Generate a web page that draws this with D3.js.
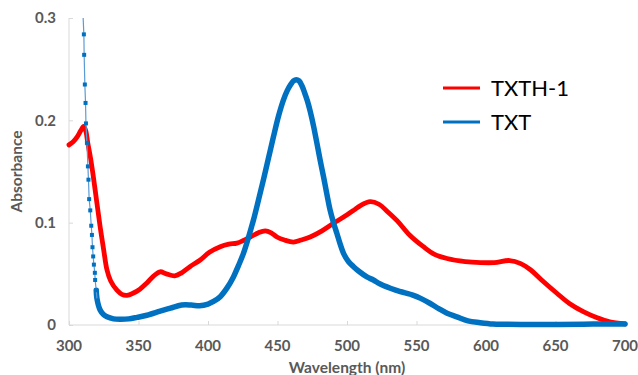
<!DOCTYPE html>
<html><head><meta charset="utf-8">
<script src="https://cdn.jsdelivr.net/npm/d3@7"></script>
<style>html,body{margin:0;padding:0;background:#fff;}svg{display:block;}</style>
</head><body>
<svg id="chart" width="638" height="375"></svg>
<script>
// ---------- data ----------
const seriesNames = ["TXTH-1", "TXT"];
const xTicks = [300, 350, 400, 450, 500, 550, 600, 650, 700];
const yTicks = [0, 0.1, 0.2, 0.3];
const yTickLabels = ["0", "0.1", "0.2", "0.3"];

const redNm = [300,303,306,308.5,310.5,312,313.5,315.5,317.5,320,322.4,325,327.3,330,334.5,338,341.7,346,351,356,361,365.6,370,376,381,387,394.4,401,408.8,415,420.8,426,430.4,436,441.2,445.5,449.6,455,461.5,467,473.5,482,490.3,497,504.7,510,516.7,523,529,536,545,555,563,572,585,596,606,617,625,632,640,651,660,670,680,689,700];
const redAbs = [0.176,0.179,0.184,0.190,0.194,0.190,0.178,0.163,0.145,0.120,0.096,0.073,0.054,0.043,0.034,0.030,0.029,0.031,0.035,0.041,0.048,0.052,0.050,0.048,0.051,0.057,0.0635,0.071,0.0765,0.079,0.080,0.083,0.086,0.090,0.092,0.090,0.086,0.083,0.081,0.083,0.086,0.092,0.0994,0.105,0.112,0.117,0.1205,0.118,0.111,0.102,0.088,0.0765,0.069,0.065,0.062,0.061,0.061,0.063,0.060,0.054,0.044,0.031,0.021,0.013,0.007,0.003,0.001];

// steep part of TXT where individual square markers are visible
const txtSteepNm = [309.2,310.7,310.9,311.4,311.9,312.2,312.9,313.6,314.0,314.5,315.3,316.0,316.5,316.9,317.4,317.9,318.6,318.8,319.6];
const txtSteepAbs = [0.33,0.284,0.264,0.235,0.217,0.197,0.178,0.155,0.142,0.123,0.112,0.097,0.088,0.076,0.067,0.059,0.051,0.044,0.034];

// dense part of TXT (markers merge into a thick band)
const txtNm = [320.1,322.4,325,327.3,332,337,343,349,356,365.6,373,381,388,394,400,404,408.8,413.6,418.3,421.9,425.5,429,432.7,436.3,439.9,443.5,447.1,450.7,454.3,457,459.5,461.5,463.5,465.5,467.5,469.5,471.5,473.5,476,478.3,480.7,483.1,485.5,487.9,490.3,492.7,495.1,497.5,501,504.7,509,514.3,519,523.9,535,547.8,553,559.9,566,572,579,587,595.8,605,612.6,630,650,670,690,700];
const txtAbs = [0.026,0.0147,0.010,0.008,0.006,0.0056,0.006,0.0075,0.0095,0.0135,0.0165,0.0195,0.0195,0.0188,0.0205,0.023,0.0277,0.036,0.047,0.058,0.070,0.085,0.1026,0.122,0.142,0.163,0.184,0.204,0.220,0.229,0.235,0.2385,0.2397,0.2385,0.234,0.227,0.219,0.209,0.194,0.178,0.161,0.145,0.128,0.112,0.100,0.0896,0.079,0.070,0.062,0.057,0.052,0.047,0.044,0.040,0.034,0.029,0.026,0.021,0.016,0.0115,0.008,0.004,0.0023,0.001,0.0007,0.0005,0.0005,0.0008,0.001,0.001];

// ---------- layout ----------
const svg = d3.select("#chart");
const x = d3.scaleLinear().domain([300, 700]).range([69, 625]);
const y = d3.scaleLinear().domain([0, 0.3]).range([325, 18]);
const axisColor = "#d9d9d9";
const labelColor = "#595959";
const font = "Lato, 'Open Sans', sans-serif";

svg.append("defs").append("clipPath").attr("id", "plotClip")
  .append("rect").attr("x", 60).attr("y", 18).attr("width", 575).attr("height", 312);

// axes
const yAxis = d3.axisRight(y).tickValues(yTicks).tickSize(4).tickFormat("");
const gy = svg.append("g").attr("transform", `translate(${x(300)},0)`).call(yAxis);
gy.select(".domain").attr("stroke", axisColor).attr("d", `M0,${y(0.3)}V${y(0)}`);
gy.selectAll(".tick line").attr("stroke", axisColor);

const xAxis = d3.axisTop(x).tickValues(xTicks).tickSize(4).tickFormat("");
const gx = svg.append("g").attr("transform", `translate(0,${y(0)})`).call(xAxis);
gx.select(".domain").attr("stroke", axisColor).attr("d", `M${x(300)},0H${x(700)}`);
gx.selectAll(".tick line").attr("stroke", axisColor);

// tick labels
svg.append("g").selectAll("text").data(yTicks).join("text")
  .attr("x", 56).attr("y", d => y(d)).attr("dy", "0.35em")
  .attr("text-anchor", "end").attr("font-family", font).attr("font-weight", "bold")
  .attr("font-size", 15).attr("fill", labelColor)
  .text((d, i) => yTickLabels[i]);
svg.append("g").selectAll("text").data(xTicks).join("text")
  .attr("x", d => x(d)).attr("y", 351)
  .attr("text-anchor", "middle").attr("font-family", font).attr("font-weight", "bold")
  .attr("font-size", 15).attr("fill", labelColor)
  .text(d => d);

// axis titles
svg.append("text").attr("x", 347).attr("y", 373)
  .attr("text-anchor", "middle").attr("font-family", font).attr("font-weight", "bold")
  .attr("font-size", 15.5).attr("fill", labelColor).text("Wavelength (nm)");
svg.append("text").attr("transform", `translate(22,${(y(0)+y(0.3))/2}) rotate(-90)`)
  .attr("text-anchor", "middle").attr("font-family", font).attr("font-weight", "bold")
  .attr("font-size", 15.5).attr("fill", labelColor).text("Absorbance");

// ---------- series ----------
const plot = svg.append("g").attr("clip-path", "url(#plotClip)");
const redData = redNm.map((d, i) => [d, redAbs[i]]);
const txtData = txtNm.map((d, i) => [d, txtAbs[i]]);
const steepData = txtSteepNm.map((d, i) => [d, txtSteepAbs[i]]);

const smooth = d3.line().x(d => x(d[0])).y(d => y(d[1])).curve(d3.curveCatmullRom.alpha(0.5));
const straight = d3.line().x(d => x(d[0])).y(d => y(d[1]));

plot.append("path").attr("d", smooth(redData)).attr("fill", "none")
  .attr("stroke", "#ff0000").attr("stroke-width", 4.8)
  .attr("stroke-linejoin", "round").attr("stroke-linecap", "round");

plot.append("path").attr("d", smooth(steepData.slice(-1).concat(txtData))).attr("fill", "none")
  .attr("stroke", "#0070c0").attr("stroke-width", 5.5)
  .attr("stroke-linejoin", "round").attr("stroke-linecap", "round");
plot.append("path").attr("d", straight(steepData.concat([txtData[0]]))).attr("fill", "none")
  .attr("stroke", "#5b9bd5").attr("stroke-width", 1.2);
plot.append("g").selectAll("rect").data(steepData).join("rect")
  .attr("x", d => x(d[0]) - 2).attr("y", d => y(d[1]) - 2)
  .attr("width", 4).attr("height", 4).attr("fill", "#0070c0");

// ---------- legend ----------
const legendColors = ["#ff0000", "#0070c0"];
const legendY = [88, 122];
const lg = svg.append("g");
seriesNames.forEach((name, i) => {
  lg.append("line").attr("x1", 443).attr("x2", 480).attr("y1", legendY[i]).attr("y2", legendY[i])
    .attr("stroke", legendColors[i]).attr("stroke-width", 3);
  lg.append("text").attr("x", 491).attr("y", legendY[i]).attr("dy", "0.36em")
    .attr("font-family", font).attr("font-size", 22).attr("fill", "#000").text(name);
});
</script>
</body></html>
